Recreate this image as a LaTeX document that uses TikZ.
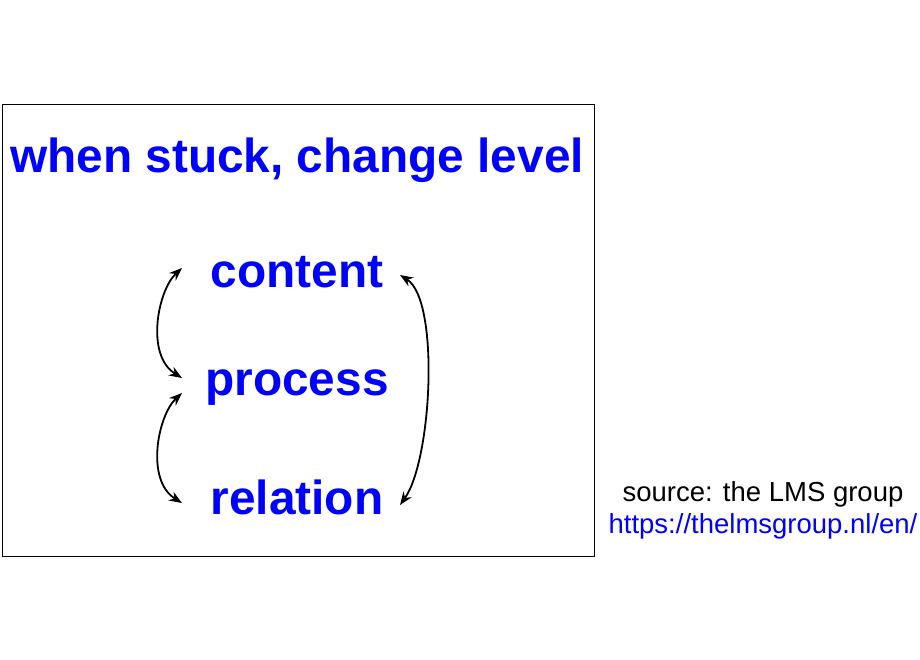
\documentclass[tikz,border=0pt]{standalone}
\usepackage{fontspec}
\setmainfont{Liberation Sans}
\usetikzlibrary{arrows.meta}
\begin{document}
\begin{tikzpicture}[x=1pt,y=-1pt,
  big/.style={font=\fontsize{47.8}{52}\selectfont\bfseries, text=blue, inner sep=0},
  small/.style={font=\fontsize{27.5}{30}\selectfont, inner sep=0},
  arr/.style={{Stealth[length=13pt,width=10pt]}-{Stealth[length=13pt,width=10pt]}, line width=1.8pt}]
\useasboundingbox (0,0) rectangle (920,660);
\node[draw, line width=0.8pt, minimum width=592, minimum height=452, anchor=north west, inner sep=0] (box) at (2,104) {};
\node[big] (title) at (297,160) {when stuck, change level};
\node[big] (content) at (297,272) {content};
\node[big] (process) at (297,388) {process};
\node[big] (relation) at (297,497) {relation};
\node[small] (src) at (763,494) {source: the LMS group};
\node[small, text=blue] (url) at (763,526) {https://thelmsgroup.nl/en/};
\coordinate (a1) at (182,268); \coordinate (a2) at (182,378);
\coordinate (b1) at (182,393); \coordinate (b2) at (182,503);
\coordinate (c1) at (400,275); \coordinate (c2) at (400,505);
\draw[arr] (a1) .. controls (158,290) and (145,355) .. (a2);
\draw[arr] (b1) .. controls (158,415) and (145,480) .. (b2);
\draw[arr] (c1) .. controls (440,300) and (432,460) .. (c2);
\end{tikzpicture}
\end{document}
